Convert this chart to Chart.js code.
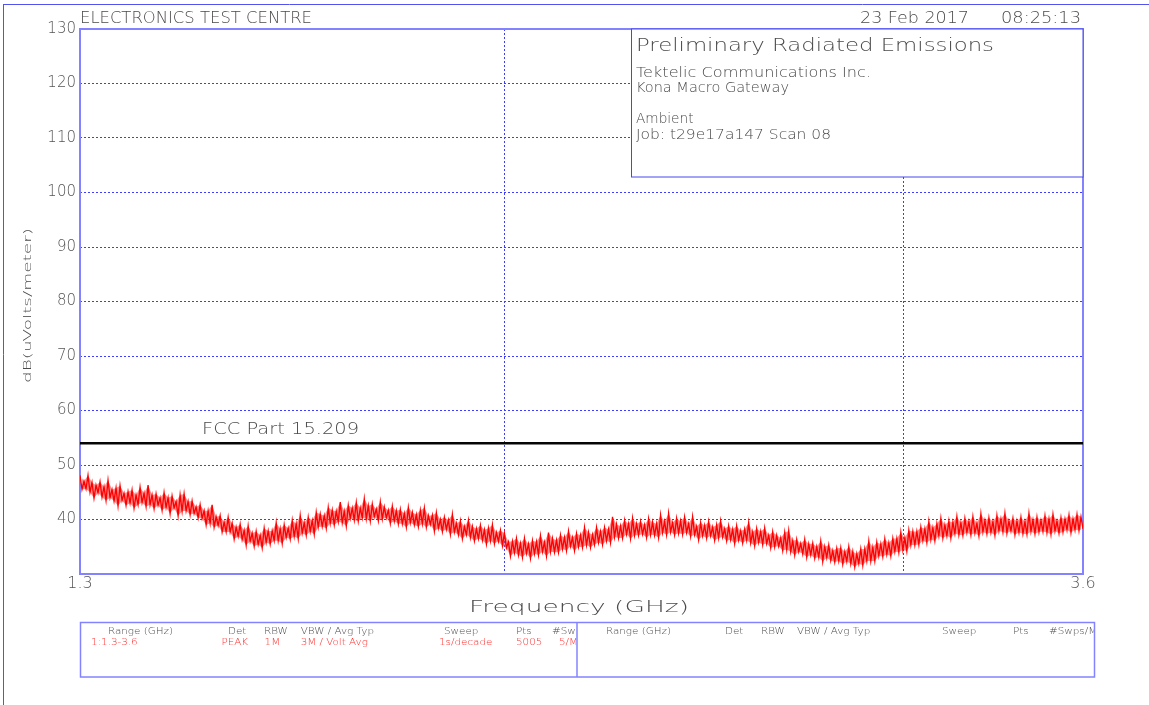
<!DOCTYPE html>
<html>
<head>
<meta charset="utf-8">
<title>Preliminary Radiated Emissions</title>
<script src="https://cdn.jsdelivr.net/npm/chart.js@4/dist/chart.umd.min.js"></script>
<style>
  html, body { margin: 0; padding: 0; background: #ffffff; }
  #wrap { width: 1149px; height: 705px; position: relative; }
  canvas { display: block; }
</style>
</head>
<body>
<div id="wrap"><canvas id="scan" width="1149" height="705"></canvas></div>
<script>
// Sweep definition (range 1:1.3-3.6 GHz, log sweep)
const sweepStartGHz = 1.3;
const sweepStopGHz = 3.6;

// Limit line
const limitLabel = 'FCC Part 15.209';
const limitDbuVm = 54;

// Axis ticks
const levelTicks = [30, 40, 50, 60, 70, 80, 90, 100, 110, 120, 130];
const freqGridGHz = [2, 3];

// Peak-detector trace, highest / lowest reading in each display bin, dB(uV/m)
const binMaxDbuVm = [
  48.1, 47.0, 48.1, 46.8, 46.3, 46.9, 46.0, 47.2, 45.5, 45.8,
  46.2, 44.8, 45.1, 45.4, 44.5, 45.9, 44.8, 46.3, 44.5, 44.7,
  44.0, 44.9, 44.0, 44.3, 43.3, 44.5, 44.7, 43.3, 43.4, 42.3,
  42.7, 41.6, 41.6, 42.7, 40.5, 40.7, 39.5, 40.4, 39.3, 38.6,
  39.1, 38.0, 38.8, 37.5, 37.8, 37.1, 38.4, 37.9, 37.9, 39.4,
  38.3, 39.0, 38.4, 39.8, 39.2, 40.7, 39.4, 40.4, 39.8, 41.3,
  41.0, 40.7, 42.2, 41.7, 41.5, 43.2, 41.5, 42.6, 42.1, 43.1,
  42.1, 43.8, 42.5, 42.8, 41.9, 43.2, 42.3, 41.7, 42.4, 41.6,
  41.8, 41.1, 42.2, 41.3, 40.9, 41.7, 42.1, 40.7, 40.8, 41.2,
  40.0, 40.4, 39.9, 40.9, 39.3, 39.7, 38.7, 39.8, 38.7, 38.3,
  38.9, 38.1, 38.4, 39.0, 37.6, 38.0, 37.5, 35.9, 36.0, 36.5,
  35.6, 36.5, 35.5, 36.1, 35.9, 37.0, 35.8, 37.6, 36.5, 36.2,
  37.1, 36.7, 37.8, 36.7, 37.4, 37.1, 38.5, 37.6, 37.2, 38.5,
  37.8, 38.5, 38.2, 40.5, 39.1, 38.8, 39.8, 39.2, 40.2, 39.2,
  39.6, 39.0, 40.1, 39.5, 39.2, 40.8, 39.6, 41.1, 39.4, 40.2,
  39.7, 40.4, 39.2, 40.5, 38.7, 39.4, 38.9, 39.6, 38.6, 39.0,
  39.7, 38.3, 38.8, 38.2, 38.8, 37.9, 38.2, 39.4, 37.7, 38.3,
  37.8, 38.4, 37.1, 37.7, 37.1, 36.6, 37.6, 37.9, 36.1, 36.3,
  35.6, 36.3, 35.5, 35.6, 35.0, 36.0, 35.0, 35.3, 34.3, 34.7,
  34.8, 34.1, 35.0, 34.1, 33.7, 34.6, 34.6, 36.0, 34.9, 35.8,
  35.5, 36.4, 35.7, 36.5, 36.5, 37.6, 36.6, 38.0, 37.8, 37.8,
  38.6, 38.3, 39.6, 38.5, 39.2, 40.2, 39.0, 39.7, 39.5, 40.5,
  39.4, 40.2, 39.6, 40.5, 39.3, 41.0, 39.8, 40.3, 39.6, 40.7,
  40.1, 41.1, 39.7, 40.2, 39.7, 40.4, 39.6, 41.1, 39.9, 40.4,
  39.8, 40.7, 40.1, 40.9, 39.7, 40.3, 40.1, 40.8, 40.1, 40.9, 40.5
];
const binMinDbuVm = [
  45.5, 45.6, 45.0, 43.9, 44.9, 44.1, 43.5, 44.0, 43.4, 42.5,
  43.5, 42.6, 43.0, 42.1, 42.7, 43.1, 42.4, 42.7, 42.0, 42.6,
  41.7, 42.2, 41.1, 42.1, 40.7, 41.5, 41.6, 40.9, 41.1, 40.3,
  40.2, 39.0, 39.3, 38.6, 38.9, 37.7, 37.7, 37.7, 36.4, 36.9,
  36.3, 35.3, 36.0, 35.1, 35.4, 34.8, 35.8, 35.5, 36.1, 36.1,
  35.6, 36.7, 36.4, 36.9, 36.5, 37.5, 37.1, 37.8, 37.3, 38.6,
  38.7, 38.4, 39.3, 39.0, 39.6, 39.4, 38.8, 40.2, 39.9, 39.7,
  40.3, 40.1, 39.7, 40.5, 39.8, 40.1, 40.3, 39.3, 39.7, 39.2,
  39.2, 38.6, 39.4, 39.0, 38.7, 39.2, 38.6, 39.1, 37.9, 38.4,
  37.8, 38.2, 37.3, 37.7, 37.2, 36.5, 37.2, 36.7, 36.1, 36.5,
  36.2, 35.5, 36.1, 35.6, 36.0, 35.2, 34.8, 33.3, 33.9, 33.5,
  33.1, 33.8, 32.9, 33.7, 33.5, 34.1, 33.3, 34.1, 34.0, 34.0,
  34.6, 34.3, 35.1, 34.3, 35.0, 34.9, 35.3, 34.9, 35.4, 35.8,
  35.4, 36.1, 35.8, 36.8, 36.6, 36.6, 37.3, 36.5, 37.1, 37.1,
  37.3, 36.7, 37.2, 37.1, 36.7, 37.6, 37.2, 37.7, 37.2, 37.5,
  37.3, 37.6, 36.9, 37.2, 36.3, 37.0, 36.6, 37.0, 36.2, 36.6,
  36.8, 36.1, 36.3, 35.6, 36.2, 35.7, 36.2, 35.7, 35.2, 35.8,
  35.4, 35.6, 34.8, 35.0, 35.1, 34.3, 34.5, 34.1, 33.5, 34.1,
  33.7, 33.1, 33.5, 32.9, 33.1, 32.3, 33.0, 32.5, 32.2, 32.4,
  31.8, 32.3, 31.9, 31.3, 31.9, 31.6, 32.4, 32.4, 32.4, 33.3,
  33.2, 33.6, 33.3, 34.1, 34.0, 34.4, 34.2, 35.3, 35.3, 35.4,
  36.1, 35.8, 36.3, 36.1, 37.0, 36.6, 37.0, 36.6, 37.4, 37.2,
  37.1, 37.6, 37.2, 37.5, 37.0, 37.7, 37.4, 37.6, 37.1, 37.9,
  37.7, 37.5, 37.9, 37.2, 37.6, 37.4, 37.3, 37.8, 37.4, 37.7,
  37.8, 37.6, 37.3, 37.9, 37.5, 37.7, 38.1, 37.6, 38.1, 38.0, 38.3
];

// Header / annotation text
const siteName = 'ELECTRONICS TEST CENTRE';
const scanDate = '23 Feb 2017';
const scanTime = '08:25:13';
const infoTitle = 'Preliminary Radiated Emissions';
const infoLines = ['Tektelic Communications Inc.', 'Kona Macro Gateway', '', 'Ambient', 'Job: t29e17a147 Scan 08'];
const xTitle = 'Frequency (GHz)';
const yTitle = 'dB(uVolts/meter)';
const tableHeads = ['Range (GHz)', 'Det', 'RBW', 'VBW / Avg Typ', 'Sweep', 'Pts', '#Swps/Max'];
const tableRow1 = ['1:1.3-3.6', 'PEAK', '1M', '3M / Volt Avg', '1s/decade', '5005', '5/Max'];

// Each display bin reports its highest then its lowest reading; the readings
// sit at log-spaced positions across the sweep.
const nBins = binMaxDbuVm.length;
const nSlots = 2 * nBins;
const slotFreq = (j) => sweepStartGHz * Math.pow(sweepStopGHz / sweepStartGHz, j / (nSlots - 1));
const traceMax = binMaxDbuVm.map((v, i) => ({ x: slotFreq(2 * i), y: v }));
const traceMin = binMinDbuVm.map((v, i) => ({ x: slotFreq(2 * i + 1), y: v }));
const traceData = [];
for (let i = 0; i < nBins; i++) {
  traceData.push(traceMax[i], traceMin[i]);
}
const limitData = [{ x: sweepStartGHz, y: limitDbuVm }, { x: sweepStopGHz, y: limitDbuVm }];

const FONT = '"DejaVu Sans", "Liberation Sans", sans-serif';
const TEXT = '#4a4a4a';
const GRID = '#3d3dff';
const FRAME = '#8383ff';
const NONE = 'rgba(0,0,0,0)';

function drawText(ctx, text, x, y, size, color, opts = {}) {
  ctx.save();
  ctx.font = `200 ${size}px ${FONT}`;
  ctx.fillStyle = color;
  ctx.textAlign = 'left';
  ctx.textBaseline = 'alphabetic';
  const w = ctx.measureText(text).width;
  const sx = opts.width ? opts.width / w : (opts.sx || 1);
  if (opts.clip) {
    ctx.beginPath();
    ctx.rect(opts.clip[0], opts.clip[1], opts.clip[2], opts.clip[3]);
    ctx.clip();
  }
  ctx.translate(x, y);
  if (opts.rotate) ctx.rotate(opts.rotate);
  ctx.scale(sx, 1);
  ctx.fillText(text, 0, 0);
  ctx.restore();
  return sx;
}

function strokeLine(ctx, x1, y1, x2, y2, color, width) {
  ctx.save();
  ctx.strokeStyle = color;
  ctx.lineWidth = width;
  ctx.beginPath();
  ctx.moveTo(x1, y1);
  ctx.lineTo(x2, y2);
  ctx.stroke();
  ctx.restore();
}

const frameAndLabels = {
  id: 'frameAndLabels',
  beforeDraw(chart) {
    const ctx = chart.ctx;
    ctx.save();
    ctx.fillStyle = '#ffffff';
    ctx.fillRect(0, 0, chart.width, chart.height);
    ctx.restore();
    // page frame
    strokeLine(ctx, 3, 4.5, chart.width, 4.5, '#5252ee', 1);
    strokeLine(ctx, 3.5, 4, 3.5, chart.height, '#5252ee', 1);
  },
  beforeDatasetsDraw(chart) {
    const ctx = chart.ctx;
    const a = chart.chartArea;
    ctx.save();
    ctx.strokeStyle = FRAME;
    ctx.lineWidth = 2;
    ctx.strokeRect(a.left, a.top, a.right - a.left, a.bottom - a.top);
    ctx.restore();
  },
  afterDraw(chart) {
    const ctx = chart.ctx;
    const a = chart.chartArea;
    const ys = chart.scales.y;

    // header
    drawText(ctx, siteName, 80, 22.5, 15, TEXT, { width: 232 });
    drawText(ctx, scanDate, 860, 22.5, 15, TEXT, { width: 109 });
    drawText(ctx, scanTime, 1001, 22.5, 15, TEXT, { width: 80 });

    // info box
    const bx = 631.5, by = a.top, bw = a.right - 631.5, bh = 148;
    ctx.save();
    ctx.fillStyle = '#ffffff';
    ctx.fillRect(bx, by, bw, bh);
    ctx.strokeStyle = '#4646ee';
    ctx.lineWidth = 1;
    ctx.strokeRect(bx, by, bw, bh);
    ctx.restore();
    drawText(ctx, infoTitle, 636, 50.7, 17, TEXT, { width: 358 });
    const lineY = [77.3, 92.3, 108, 123.3, 139.3];
    const lineW = [235, 153, 0, 57.5, 195];
    infoLines.forEach((t, i) => {
      if (t) drawText(ctx, t, 636, lineY[i], 14, TEXT, { width: lineW[i] });
    });

    // limit label
    drawText(ctx, limitLabel, a.left + 122, ys.getPixelForValue(limitDbuVm) - 9.5, 15, TEXT, { width: 157 });

    // axis titles
    drawText(ctx, xTitle, 469, 611.5, 16, TEXT, { width: 220 });
    drawText(ctx, yTitle, 31, 383, 11, TEXT, { width: 155, rotate: -Math.PI / 2 });

    // settings table
    ctx.save();
    ctx.strokeStyle = FRAME;
    ctx.lineWidth = 1.5;
    ctx.strokeRect(80.5, 622.5, 1094.5 - 80.5, 677 - 622.5);
    strokeLine(ctx, 577, 622.5, 577, 677, FRAME, 1.5);
    ctx.restore();

    const headL = [108, 228, 264, 300.7, 444, 516, 552];
    const headR = [606, 725, 761, 797, 942, 1013, 1049];
    const rowL = [91, 221.5, 264.6, 300.7, 439, 516, 559];
    const sx = drawText(ctx, tableHeads[0], headL[0], 634, 9, TEXT, { width: 65 });
    for (let i = 1; i < tableHeads.length; i++) {
      drawText(ctx, tableHeads[i], headL[i], 634, 9, TEXT, { sx, clip: [80, 620, 496, 60] });
    }
    for (let i = 0; i < tableHeads.length; i++) {
      drawText(ctx, tableHeads[i], headR[i], 634, 9, TEXT, { sx, clip: [578, 620, 515.5, 60] });
    }
    for (let i = 0; i < tableRow1.length; i++) {
      drawText(ctx, tableRow1[i], rowL[i], 645, 9, '#ff2a2a', { sx, clip: [80, 620, 496, 60] });
    }
  }
};

new Chart(document.getElementById('scan'), {
  type: 'line',
  data: {
    datasets: [
      {
        label: 'Peak',
        data: traceData,
        borderColor: '#ff0000',
        borderWidth: 1.35,
        pointRadius: 0,
        tension: 0,
        fill: false
      },
      {
        label: 'Peak max',
        data: traceMax,
        borderColor: NONE,
        backgroundColor: 'rgba(255,50,50,0.55)',
        borderWidth: 0,
        pointRadius: 0,
        tension: 0,
        fill: '+1'
      },
      {
        label: 'Peak min',
        data: traceMin,
        borderColor: NONE,
        borderWidth: 0,
        pointRadius: 0,
        tension: 0,
        fill: false
      },
      {
        label: limitLabel,
        data: limitData,
        borderColor: '#050505',
        borderWidth: 2.6,
        pointRadius: 0,
        tension: 0,
        fill: false
      }
    ]
  },
  options: {
    responsive: false,
    animation: false,
    devicePixelRatio: 1,
    layout: { padding: { left: 0, top: 29, right: 66, bottom: 0 } },
    plugins: { legend: { display: false }, tooltip: { enabled: false }, filler: { propagate: false } },
    scales: {
      x: {
        type: 'logarithmic',
        min: sweepStartGHz,
        max: sweepStopGHz,
        afterBuildTicks(scale) {
          scale.ticks = [sweepStartGHz, ...freqGridGHz, sweepStopGHz].map(v => ({ value: v }));
        },
        afterFit(scale) { scale.height = 131; },
        ticks: {
          autoSkip: false,
          maxRotation: 0,
          minRotation: 0,
          padding: 0,
          color: '#555555',
          font: { family: FONT, size: 16, weight: '200' },
          callback: (v) => (v === sweepStartGHz || v === sweepStopGHz) ? v.toFixed(1) : ''
        },
        grid: {
          drawTicks: false,
          lineWidth: 1,
          color: (c) => (c.tick && freqGridGHz.includes(c.tick.value)) ? GRID : NONE
        },
        border: { display: false, dash: [2, 2] }
      },
      y: {
        type: 'linear',
        min: levelTicks[0],
        max: levelTicks[levelTicks.length - 1],
        afterBuildTicks(scale) {
          scale.ticks = levelTicks.map(v => ({ value: v }));
        },
        afterFit(scale) { scale.width = 80; },
        ticks: {
          padding: 4,
          color: '#555555',
          font: { family: FONT, size: 15, weight: '200' },
          callback: (v) => v === levelTicks[0] ? '' : String(v)
        },
        grid: {
          drawTicks: false,
          lineWidth: 1,
          color: (c) => (c.tick && c.tick.value > levelTicks[0] && c.tick.value < levelTicks[levelTicks.length - 1]) ? GRID : NONE
        },
        border: { display: false, dash: [2, 2] }
      }
    }
  },
  plugins: [frameAndLabels]
});
</script>
</body>
</html>
